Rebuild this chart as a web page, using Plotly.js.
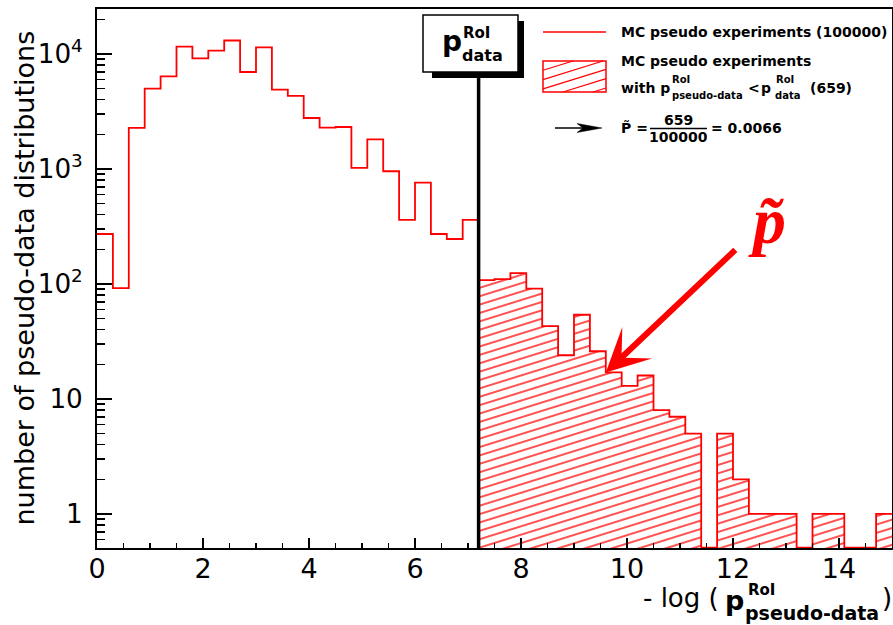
<!DOCTYPE html>
<html>
<head>
<meta charset="utf-8">
<script src="https://cdn.plot.ly/plotly-3.0.1.min.js"></script>
<style>
  html, body { margin: 0; padding: 0; background: #fff; }
  #chart { width: 893px; height: 625px; }
</style>
</head>
<body>
<div id="chart"></div>
<script>
// Binning of -log(p_pseudo-data): 50 bins of width 0.3 starting at 0
const binStart = 0;
const binWidth = 0.3;

// Pseudo experiments per bin
const counts = [
  272, 92, 2275, 4990, 6390, 11600, 9170, 10683, 13100, 6970,
  11420, 4900, 4315, 2775, 2285, 2317, 1020, 1812, 955, 361,
  760, 272, 246, 361,
  108, 110, 124, 91, 43, 24, 54, 26, 17, 13,
  16, 8, 7, 5, 0, 5, 2, 1, 1, 1,
  0, 1, 1, 0, 0, 1
];

// -log(p) observed in data
const pDataCut = 7.2;

// Bin that the p-tilde arrow points at
const arrowBin = 32;

// Tick labels on the x axis
const xTickVals = [0, 2, 4, 6, 8, 10, 12, 14];

// ---------------------------------------------------------------
const yRange = [-0.296, 4.391];
const yFloor = Math.pow(10, yRange[0] + 0.004);

const edges = counts.map((_, i) => +(binStart + i * binWidth).toFixed(6));
const centers = edges.map(e => e + binWidth / 2);
const xEnd = binStart + counts.length * binWidth;

const total = counts.reduce((a, b) => a + b, 0);
const belowCounts = counts.map((c, i) => (edges[i] >= pDataCut - 1e-9 ? c : 0));
const nBelow = belowCounts.reduce((a, b) => a + b, 0);
const pTilde = (nBelow / total).toFixed(4);

// step outline of the full histogram
const stepTrace = {
  type: 'scatter', mode: 'lines',
  x: edges.concat([xEnd]),
  y: counts.map(c => (c > 0 ? c : yFloor)).concat([counts[counts.length - 1] || yFloor]),
  line: { shape: 'hv', color: '#ff0000', width: 1.8 },
  hoverinfo: 'skip', showlegend: false
};

// hatched part beyond the observed value
const hatchTrace = {
  type: 'bar',
  x: centers,
  y: belowCounts.map((c, i) => (edges[i] >= pDataCut - 1e-9 && c > 0 ? c : null)),
  width: binWidth,
  marker: {
    color: 'rgba(0,0,0,0)',
    line: { width: 0 },
    pattern: { shape: '-', size: 8, solidity: 0.17, fgcolor: '#ff0000', bgcolor: 'rgba(0,0,0,0)', fgopacity: 1 }
  },
  hoverinfo: 'skip', showlegend: false
};

// pixel helpers for the decorations (plot area: x 97..892, y 9..548)
const L = 97, W = 795, B = 548, H = 539;
const px = x => (x - L) / W;
const py = y => (B - y) / H;

const shapes = [];
const annotations = [];

function txt(text, x, y, size, o) {
  o = o || {};
  annotations.push({
    xref: 'paper', yref: 'paper', x: px(x), y: py(y),
    xanchor: o.anchor || 'left', yanchor: 'middle',
    text: text, showarrow: false, borderpad: 0,
    font: {
      family: o.family || 'DejaVu Sans', size: size, color: o.color || 'black',
      weight: o.weight || 'normal', style: o.style || 'normal'
    }
  });
}

// observed-value marker line and its label box
shapes.push({ type: 'line', xref: 'x', yref: 'paper', x0: pDataCut, x1: pDataCut, y0: 0, y1: py(72),
  line: { color: 'black', width: 3.5 } });
shapes.push({ type: 'rect', xref: 'paper', yref: 'paper', x0: px(432), x1: px(524), y0: py(78), y1: py(21),
  fillcolor: 'black', line: { width: 0 } });
shapes.push({ type: 'rect', xref: 'paper', yref: 'paper', x0: px(423), x1: px(518), y0: py(72), y1: py(15),
  fillcolor: 'white', line: { color: 'black', width: 1.5 } });
txt('p', 441, 42, 28, { weight: 'bold' });
txt('RoI', 462, 33, 15, { weight: 'bold' });
txt('data', 461, 55, 16, { weight: 'bold' });

// legend: line entry
shapes.push({ type: 'line', xref: 'paper', yref: 'paper', x0: px(543), x1: px(606), y0: py(32), y1: py(32),
  line: { color: '#ff0000', width: 1.5 } });
txt('MC pseudo experiments (' + total + ')', 620, 32, 14, { weight: 'bold' });

// legend: hatched entry
const lx0 = 543, lx1 = 606, ly0 = 61, ly1 = 92;
shapes.push({ type: 'rect', xref: 'paper', yref: 'paper', x0: px(lx0), x1: px(lx1), y0: py(ly1), y1: py(ly0),
  line: { color: '#ff0000', width: 1.5 } });
const slope = 0.31, period = 30;
for (let xk = lx0 - (ly1 - ly0) / slope; xk < lx1; xk += period) {
  let xa = xk, ya = ly1;
  if (xa < lx0) { ya = ly1 - slope * (lx0 - xk); xa = lx0; }
  let xb = xk + (ly1 - ly0) / slope, yb = ly0;
  if (xb > lx1) { yb = ly1 - slope * (lx1 - xk); xb = lx1; }
  if (ya <= ly0 || xa >= lx1) continue;
  shapes.push({ type: 'line', xref: 'paper', yref: 'paper', x0: px(xa), y0: py(ya), x1: px(xb), y1: py(yb),
    line: { color: '#ff0000', width: 1.2 } });
}
txt('MC pseudo experiments', 620, 61, 14, { weight: 'bold' });
txt('with p', 620, 88, 14, { weight: 'bold' });
txt('RoI', 671, 80, 10, { weight: 'bold' });
txt('pseudo-data', 671, 95, 10, { weight: 'bold' });
txt('<', 747, 88, 14, { weight: 'bold' });
txt('p', 760, 88, 14, { weight: 'bold' });
txt('RoI', 775, 80, 10, { weight: 'bold' });
txt('data', 774, 95, 10, { weight: 'bold' });
txt('(' + nBelow + ')', 809, 88, 14, { weight: 'bold' });

// legend: ratio entry
shapes.push({ type: 'line', xref: 'paper', yref: 'paper', x0: px(555), x1: px(584), y0: py(128), y1: py(128),
  line: { color: 'black', width: 1.5 } });
const hp = [[602, 128], [577, 123.5], [583, 128], [577, 132.5]];
shapes.push({ type: 'path', xref: 'paper', yref: 'paper',
  path: 'M' + hp.map(p => px(p[0]) + ',' + py(p[1])).join('L') + 'Z',
  fillcolor: 'black', line: { color: 'black', width: 0.5 } });
txt('P\u0303 =', 620, 128, 14, { weight: 'bold' });
txt(String(nBelow), 678.5, 120, 14, { weight: 'bold', anchor: 'center' });
shapes.push({ type: 'line', xref: 'paper', yref: 'paper', x0: px(650), x1: px(707), y0: py(128.5), y1: py(128.5),
  line: { color: 'black', width: 1.5 } });
txt(String(total), 678.5, 137, 14, { weight: 'bold', anchor: 'center' });
txt('= ' + pTilde, 710, 128, 14, { weight: 'bold' });

// p-tilde marker
txt('p\u0303', 747, 220, 66, { family: 'Liberation Serif', weight: 'bold', style: 'italic', color: '#ff0000' });
annotations.push({
  xref: 'x', yref: 'y', x: edges[arrowBin], y: Math.log10(counts[arrowBin]),
  ax: 131, ay: -124, axref: 'pixel', ayref: 'pixel',
  text: '', showarrow: true, arrowhead: 3, arrowsize: 1.2, arrowwidth: 6, arrowcolor: '#ff0000', standoff: 0
});

// axis titles
annotations.push({
  xref: 'paper', yref: 'paper', x: px(24), y: 0.5, xanchor: 'center', yanchor: 'middle',
  text: 'number of pseudo-data distributions', textangle: -90, showarrow: false,
  font: { family: 'DejaVu Sans', size: 27, color: 'black' }
});
txt('- log (', 642, 598, 26);
txt('p', 724, 600, 27, { weight: 'bold' });
txt('RoI', 747, 590, 15, { weight: 'bold' });
txt('pseudo-data', 744, 613, 19, { weight: 'bold' });
txt(')', 881, 598, 26);

const layout = {
  width: 893, height: 625,
  margin: { l: 97, r: 1, t: 9, b: 77, pad: 0 },
  paper_bgcolor: 'white', plot_bgcolor: 'white',
  showlegend: false, bargap: 0,
  xaxis: {
    range: [binStart, xEnd], tickvals: xTickVals, ticktext: xTickVals.map(String),
    ticks: 'inside', ticklen: 10, tickwidth: 1.5, tickcolor: 'black',
    minor: { dtick: 0.5, tick0: 0, ticks: 'inside', ticklen: 5, tickwidth: 1.5, tickcolor: 'black', showgrid: false },
    showline: true, linewidth: 2, linecolor: 'black', mirror: true,
    showgrid: false, zeroline: false, ticklabelstandoff: -4,
    tickfont: { family: 'DejaVu Sans', size: 27, color: 'black' }
  },
  yaxis: {
    type: 'log', range: yRange, dtick: 1, exponentformat: 'power',
    ticks: 'inside', ticklen: 15, tickwidth: 1.5, tickcolor: 'black',
    minor: { dtick: 'D1', ticks: 'inside', ticklen: 8, tickwidth: 1.5, tickcolor: 'black', showgrid: false },
    showline: true, linewidth: 2, linecolor: 'black', mirror: true,
    showgrid: false, zeroline: false, ticklabelstandoff: 8,
    tickfont: { family: 'DejaVu Sans', size: 21, color: 'black' }
  },
  shapes: shapes,
  annotations: annotations
};

const gd = document.getElementById('chart');
Plotly.newPlot(gd, [hatchTrace, stepTrace], layout, { displayModeBar: false, staticPlot: true })
  .then(function () {
    // tilt the hatch lines to a shallow angle
    gd.querySelectorAll('pattern').forEach(function (p) {
      p.setAttribute('patternTransform', 'rotate(-17.3)');
    });
  });
</script>
</body>
</html>
